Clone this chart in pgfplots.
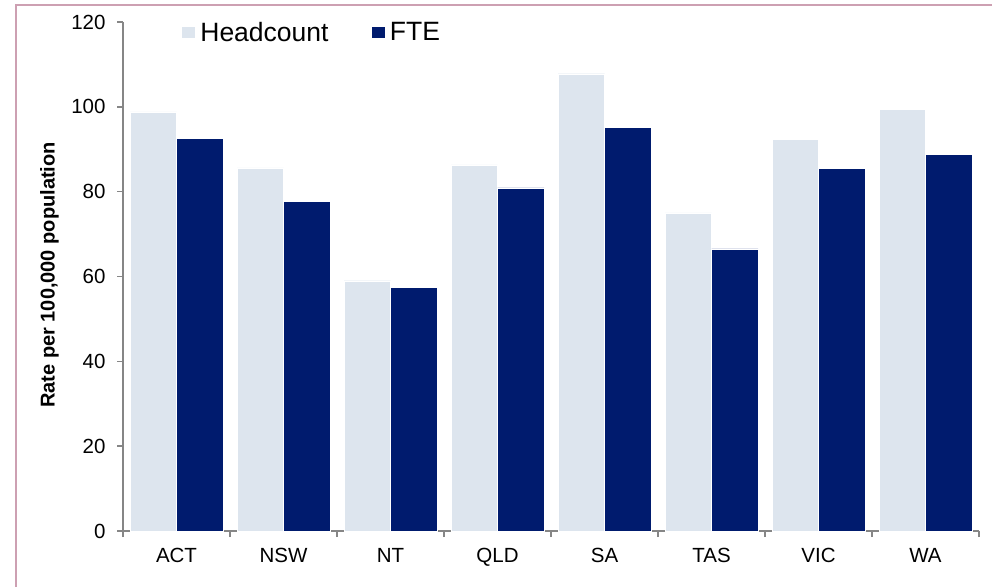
\documentclass[border=0pt]{standalone}
\usepackage{pgfplots}
\pgfplotsset{compat=1.18}
\usepackage{fontspec}
\setmainfont{Liberation Sans}
\definecolor{hc}{RGB}{221,229,238}
\definecolor{fte}{RGB}{0,27,110}
\definecolor{axgray}{RGB}{134,134,134}
\definecolor{frame}{RGB}{205,160,178}
\begin{document}
\begin{tikzpicture}
\useasboundingbox (0,0) rectangle (992pt,587pt);
\draw[frame, line width=1.5pt] (16pt,0pt) -- (16pt,582pt) -- (992pt,582pt);
\begin{axis}[
  at={(123pt,56pt)}, anchor=south west,
  scale only axis, width=856pt, height=509pt,
  ybar=0pt, bar width=46.5pt,
  xmin=-0.5, xmax=7.5, ymin=0, ymax=120,
  xtick={0,...,7},
  xticklabels={ACT,NSW,NT,QLD,SA,TAS,VIC,WA},
  minor xtick={-0.5,0.5,...,7.5},
  ytick={0,20,...,120},
  axis x line*=bottom, axis y line*=left,
  axis line style={axgray, line width=1.5pt, -},
  major x tick style={draw=none},
  minor x tick style={axgray, line width=1.5pt},
  major y tick style={axgray, line width=1.5pt},
  tick align=outside,
  major tick length=6pt, minor tick length=6pt,
  /pgf/number format/assume math mode=true,
  tick label style={font=\fontsize{20.5}{24}\selectfont},
  xticklabel style={yshift=-8pt},
  yticklabel style={xshift=-8pt},
  ylabel={Rate per 100,000 population},
  ylabel style={at={(axis description cs:-0.0859,0.503)}, anchor=center, font=\bfseries\fontsize{20}{24}\selectfont},
  legend style={at={(axis description cs:0.064,1.008)}, anchor=north west, draw=none, fill=none,
    legend columns=2, font=\fontsize{26.5}{30}\selectfont,
    /tikz/every even column/.append style={column sep=40pt}},
  legend image code/.code={\fill (0pt,-6pt) rectangle (14pt,6pt); \path (17pt,0pt);},
]
\addplot[fill=hc, draw=white, line width=0.4pt] coordinates {
(0,98.8) (1,85.6) (2,59.0) (3,86.3) (4,107.8) (5,75.0) (6,92.4) (7,99.4)};
\addplot[fill=fte, draw=white, line width=0.4pt] coordinates {
(0,92.6) (1,77.7) (2,57.5) (3,80.9) (4,95.1) (5,66.5) (6,85.5) (7,88.8)};
\legend{Headcount,FTE}
\end{axis}
\end{tikzpicture}
\end{document}
